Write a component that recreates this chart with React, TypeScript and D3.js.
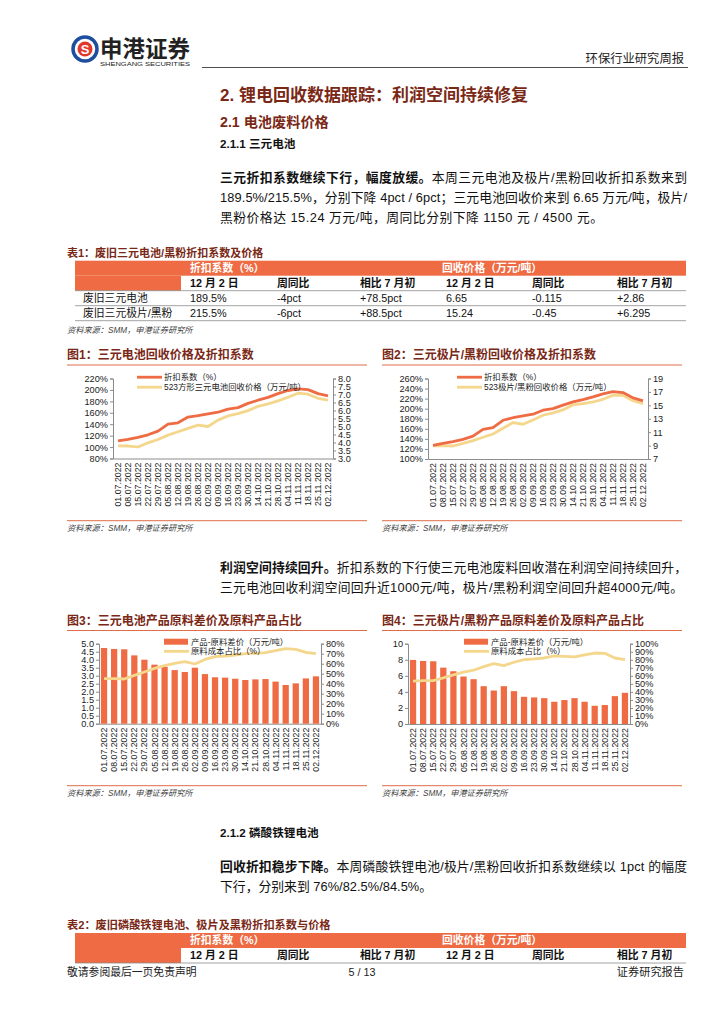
import React, { useEffect, useRef } from 'react';
import * as d3 from 'd3';

// weekly sample dates (SMM)
const dates = [
  '01.07.2022', '08.07.2022', '15.07.2022', '22.07.2022', '29.07.2022', '05.08.2022',
  '12.08.2022', '19.08.2022', '26.08.2022', '02.09.2022', '09.09.2022', '16.09.2022',
  '23.09.2022', '30.09.2022', '14.10.2022', '21.10.2022', '28.10.2022', '04.11.2022',
  '11.11.2022', '18.11.2022', '25.11.2022', '02.12.2022',
];

// fig 1: 三元电池
const ncmDiscount = [111, 113.5, 117, 121.5, 128, 140, 142.5, 152.5, 155, 158, 161, 166.5, 169, 176.5, 182, 187, 193.5, 199, 202, 200.5, 193.5, 189.5];
const ncmPrice = [3.79, 3.78, 3.72, 3.98, 4.19, 4.46, 4.67, 4.88, 5.09, 5.0, 5.4, 5.66, 5.8, 5.99, 6.26, 6.41, 6.6, 6.83, 7.08, 7.02, 6.765, 6.65];
// fig 2: 极片/黑粉
const powderDiscount = [127, 131, 134.5, 139, 145.5, 159, 162.5, 177, 182, 185.5, 189, 197, 200, 207, 213.5, 218, 223.5, 229.5, 234, 232, 221.5, 215.5];
const powderPrice = [8.945, 9.0, 8.94, 9.34, 9.74, 10.24, 10.73, 11.58, 12.43, 12.18, 12.82, 13.52, 13.87, 14.32, 15.07, 15.27, 15.5, 15.9, 16.5, 16.5, 15.69, 15.24];
// fig 3
const ncmSpread = [4.73, 4.67, 4.65, 4.27, 4.0, 3.69, 3.56, 3.35, 3.23, 3.5, 3.1, 2.9, 2.88, 2.81, 2.73, 2.77, 2.79, 2.63, 2.42, 2.52, 2.83, 2.96];
const ncmCostShare = [45, 45, 44.7, 48.3, 51.7, 55.3, 58, 60.3, 62, 59.7, 64.3, 67, 67.7, 68.7, 70, 70.3, 71, 73, 75, 74.3, 71.3, 70];
// fig 4
const powderSpread = [7.98, 7.85, 7.81, 7.02, 6.57, 5.91, 5.58, 4.71, 4.17, 4.71, 4.09, 3.39, 3.31, 3.22, 2.77, 2.98, 3.22, 2.77, 2.27, 2.36, 3.47, 3.88];
const powderCostShare = [53.3, 54.1, 54.1, 57.4, 61.2, 64.5, 67, 71.5, 75.2, 72.7, 76.9, 80.2, 81, 82.2, 84.7, 84.3, 83.5, 86, 88.4, 88, 82.2, 80.2];

// axis ticks
const fig1LeftTicks = [80, 100, 120, 140, 160, 180, 200, 220];
const fig1RightTicks = [3.0, 3.5, 4.0, 4.5, 5.0, 5.5, 6.0, 6.5, 7.0, 7.5, 8.0];
const fig2LeftTicks = [100, 120, 140, 160, 180, 200, 220, 240, 260];
const fig2RightTicks = [7, 9, 11, 13, 15, 17, 19];
const fig3LeftTicks = [0, 0.5, 1.0, 1.5, 2.0, 2.5, 3.0, 3.5, 4.0, 4.5, 5.0];
const fig3RightTicks = [0, 10, 20, 30, 40, 50, 60, 70, 80];
const fig4LeftTicks = [0, 2, 4, 6, 8, 10];
const fig4RightTicks = [0, 10, 20, 30, 40, 50, 60, 70, 80, 90, 100];

// tables
const tableGroups = ['折扣系数（%）', '回收价格（万元/吨）'];
const tableCols = ['12 月 2 日', '周同比', '相比 7 月初', '12 月 2 日', '周同比', '相比 7 月初'];
const table1Rows = [
  ['废旧三元电池', '189.5%', '-4pct', '+78.5pct', '6.65', '-0.115', '+2.86'],
  ['废旧三元极片/黑粉', '215.5%', '-6pct', '+88.5pct', '15.24', '-0.45', '+6.295'],
];

const ORANGE = '#EE6B43';
const YELLOW = '#F4D68C';
const BROWN = '#7A2816';
const RULE = '#E06D4A';
const FONT = "'Liberation Sans', Arial, 'Noto Sans CJK SC', sans-serif";

type G = d3.Selection<SVGGElement, unknown, null, undefined>;

interface Frame {
  x0: number; x1: number; yTop: number; yBot: number;
  leftDomain: [number, number]; leftTicks: number[]; leftFmt: (v: number) => string;
  rightDomain: [number, number]; rightTicks: number[]; rightFmt: (v: number) => string;
}

function drawFrame(g: G, f: Frame) {
  const x = d3.scaleBand<string>().domain(dates).range([f.x0, f.x1]).padding(0);
  const yl = d3.scaleLinear().domain(f.leftDomain).range([f.yBot, f.yTop]);
  const yr = d3.scaleLinear().domain(f.rightDomain).range([f.yBot, f.yTop]);

  const la = g.append('g').attr('transform', `translate(${f.x0},0)`)
    .call(d3.axisLeft(yl).tickValues(f.leftTicks).tickFormat((d) => f.leftFmt(+d)).tickSize(3).tickPadding(2));
  const ra = g.append('g').attr('transform', `translate(${f.x1},0)`)
    .call(d3.axisRight(yr).tickValues(f.rightTicks).tickFormat((d) => f.rightFmt(+d)).tickSize(3).tickPadding(2));
  const xa = g.append('g').attr('transform', `translate(0,${f.yBot})`)
    .call(d3.axisBottom(x).tickSize(0).tickFormat(() => ''));
  [la, ra, xa].forEach((a) => {
    a.select('.domain').attr('stroke', '#8c8c8c');
    a.selectAll('.tick line').attr('stroke', '#8c8c8c');
    a.selectAll('text').attr('font-family', FONT).attr('font-size', 9.2).attr('fill', '#222');
  });

  g.append('g').selectAll('text').data(dates).join('text')
    .attr('transform', (d) => `translate(${(x(d) ?? 0) + x.bandwidth() / 2 + 3},${f.yBot + 4}) rotate(-90)`)
    .attr('text-anchor', 'end')
    .attr('font-family', FONT).attr('font-size', 8.8).attr('fill', '#222')
    .text((d) => d);
  return { x, yl, yr };
}

function drawLine(g: G, x: d3.ScaleBand<string>, y: d3.ScaleLinear<number, number>, vals: number[], color: string) {
  const line = d3.line<number>()
    .x((_, i) => (x(dates[i]) ?? 0) + x.bandwidth() / 2)
    .y((d) => y(d));
  g.append('path').datum(vals).attr('d', line).attr('fill', 'none')
    .attr('stroke', color).attr('stroke-width', 2.8).attr('stroke-linejoin', 'round');
}

function drawLegendLine(g: G, x: number, y: number, color: string, label: string) {
  g.append('line').attr('x1', x).attr('x2', x + 25).attr('y1', y).attr('y2', y)
    .attr('stroke', color).attr('stroke-width', 2.8);
  g.append('text').attr('x', x + 27).attr('y', y + 3).attr('font-family', FONT)
    .attr('font-size', 8.4).attr('fill', '#222').text(label);
}

function drawLegendBar(g: G, x: number, y: number, label: string) {
  g.append('rect').attr('x', x).attr('y', y - 3).attr('width', 24).attr('height', 6).attr('fill', ORANGE);
  g.append('text').attr('x', x + 27).attr('y', y + 3).attr('font-family', FONT)
    .attr('font-size', 8.4).attr('fill', '#222').text(label);
}

function drawLineChart(g: G, f: Frame, s1: number[], s2: number[], lx: number, label1: string, label2: string) {
  const { x, yl, yr } = drawFrame(g, f);
  drawLine(g, x, yr, s2, YELLOW);
  drawLine(g, x, yl, s1, ORANGE);
  drawLegendLine(g, lx, f.yTop - 1.3, ORANGE, label1);
  drawLegendLine(g, lx, f.yTop + 8.7, YELLOW, label2);
}

function drawBarChart(g: G, f: Frame, bars: number[], share: number[], lx: number) {
  const { x, yl, yr } = drawFrame(g, f);
  const inner = d3.scaleBand<string>().domain(dates).range([f.x0, f.x1]).paddingInner(0.38).paddingOuter(0.19);
  g.append('g').selectAll('rect').data(bars).join('rect')
    .attr('x', (_, i) => (inner(dates[i]) ?? 0))
    .attr('width', inner.bandwidth())
    .attr('y', (d) => yl(d))
    .attr('height', (d) => f.yBot - yl(d))
    .attr('fill', ORANGE);
  drawLine(g, x, yr, share, YELLOW);
  drawLegendBar(g, lx, f.yTop - 2, '产品-原料差价（万元/吨）');
  drawLegendLine(g, lx, f.yTop + 7.6, YELLOW, '原料成本占比（%）');
}

const pct = (v: number) => `${v}%`;
const one = (v: number) => v.toFixed(1);
const int = (v: number) => `${v}`;

function FigureHead({ x, y, w, title }: { x: number; y: number; w: number; title: string }) {
  return (
    <g>
      <text x={x} y={y} fontFamily={FONT} fontSize={12} fontWeight="bold" fill={BROWN}>{title}</text>
      <line x1={x} x2={x + w} y1={y + 6} y2={y + 6} stroke={RULE} strokeWidth={1} />
    </g>
  );
}

function FigureFoot({ x, y, w }: { x: number; y: number; w: number }) {
  return (
    <g>
      <line x1={x} x2={x + w} y1={y} y2={y} stroke={RULE} strokeWidth={1} />
      <text x={x} y={y + 10} fontFamily={FONT} fontSize={8.2} fontStyle="italic" fill="#444">资料来源：SMM，申港证券研究所</text>
    </g>
  );
}

const colX = [190, 277, 360, 446, 532, 617];

function Table({ y, rows }: { y: number; rows: string[][] }) {
  const L = 75, R = 686, h = 15;
  return (
    <g fontFamily={FONT} fontSize={10.8}>
      <rect x={L} y={y} width={R - L} height={h} fill={ORANGE} />
      <rect x={L} y={y + h} width={181 - L} height={h} fill={ORANGE} />
      <text x={colX[0]} y={y + 11} fill="#fff" fontWeight="bold">{tableGroups[0]}</text>
      <text x={colX[3] - 4} y={y + 11} fill="#fff" fontWeight="bold">{tableGroups[1]}</text>
      {tableCols.map((c, i) => (
        <text key={i} x={colX[i]} y={y + h + 11} fill="#111" fontWeight="bold">{c}</text>
      ))}
      <line x1={L} x2={R} y1={y + 2 * h} y2={y + 2 * h} stroke="#8a8a8a" strokeWidth={0.8} />
      {rows.map((r, ri) => (
        <g key={ri}>
          {r.map((c, ci) => (
            <text key={ci} x={ci === 0 ? 83 : colX[ci - 1]} y={y + (ri + 2) * h + 11} fill="#111">{c}</text>
          ))}
          <line x1={L} x2={R} y1={y + (ri + 3) * h} y2={y + (ri + 3) * h} stroke="#8a8a8a" strokeWidth={0.8} />
        </g>
      ))}
    </g>
  );
}

export default function App() {
  const ref = useRef<SVGGElement>(null);

  useEffect(() => {
    if (!ref.current) return;
    const root = d3.select(ref.current);
    root.selectAll('*').remove();

    drawLineChart(root.append('g'), {
      x0: 113, x1: 333, yTop: 378.5, yBot: 458.5,
      leftDomain: [80, 220], leftTicks: fig1LeftTicks, leftFmt: pct,
      rightDomain: [3, 8], rightTicks: fig1RightTicks, rightFmt: one,
    }, ncmDiscount, ncmPrice, 137, '折扣系数（%）', '523方形三元电池回收价格（万元/吨）');

    drawLineChart(root.append('g'), {
      x0: 428, x1: 648, yTop: 378.5, yBot: 459,
      leftDomain: [100, 260], leftTicks: fig2LeftTicks, leftFmt: pct,
      rightDomain: [7, 19], rightTicks: fig2RightTicks, rightFmt: int,
    }, powderDiscount, powderPrice, 457, '折扣系数（%）', '523极片/黑粉回收价格（万元/吨）');

    drawBarChart(root.append('g'), {
      x0: 99, x1: 321, yTop: 643.7, yBot: 723.7,
      leftDomain: [0, 5], leftTicks: fig3LeftTicks, leftFmt: one,
      rightDomain: [0, 80], rightTicks: fig3RightTicks, rightFmt: pct,
    }, ncmSpread, ncmCostShare, 164);

    drawBarChart(root.append('g'), {
      x0: 408, x1: 630, yTop: 643.7, yBot: 724,
      leftDomain: [0, 10], leftTicks: fig4LeftTicks, leftFmt: int,
      rightDomain: [0, 100], rightTicks: fig4RightTicks, rightFmt: pct,
    }, powderSpread, powderCostShare, 464);
  }, []);

  const body = { fontFamily: FONT, fontSize: 12.8, fill: '#111' } as const;

  return (
    <svg width={724} height={1024} style={{ position: 'absolute', left: 0, top: 0, background: '#fff' }}>
      {/* header */}
      <circle cx={85} cy={49} r={12} fill="none" stroke="#1D4F9E" strokeWidth={3.5} />
      <circle cx={85} cy={49} r={7.5} fill="#E2382C" />
      <text x={85} y={53.5} textAnchor="middle" fontFamily={FONT} fontWeight="bold" fontSize={13} fill="#fff">S</text>
      <text x={100} y={57} fontFamily={FONT} fontWeight="bold" fontSize={22.5} fill="#222">申港证券</text>
      <text x={100} y={66} fontFamily={FONT} fontSize={5.6} fill="#222" textLength={90} lengthAdjust="spacingAndGlyphs">SHENGANG SECURITIES</text>
      <text x={684} y={63} textAnchor="end" fontFamily={FONT} fontSize={12.3} fill="#222">环保行业研究周报</text>
      <line x1={202} x2={688} y1={67.5} y2={67.5} stroke="#222" strokeWidth={0.8} />

      {/* headings */}
      <text x={220} y={101} fontFamily={FONT} fontWeight="bold" fontSize={17} fill={BROWN}>2. 锂电回收数据跟踪：利润空间持续修复</text>
      <text x={220} y={127} fontFamily={FONT} fontWeight="bold" fontSize={14.2} fill={BROWN}>2.1 电池废料价格</text>
      <text x={220} y={148} fontFamily={FONT} fontWeight="bold" fontSize={11.6} fill="#111">2.1.1 三元电池</text>

      <text x={220} y={181.5} {...body} textLength={467} lengthAdjust="spacing">
        <tspan fontWeight="bold">三元折扣系数继续下行，幅度放缓。</tspan>本周三元电池及极片/黑粉回收折扣系数来到
      </text>
      <text x={220} y={201.5} {...body} textLength={467} lengthAdjust="spacing">189.5%/215.5%，分别下降 4pct / 6pct；三元电池回收价来到 6.65 万元/吨，极片/</text>
      <text x={220} y={221.5} {...body} textLength={383} lengthAdjust="spacing">黑粉价格达 15.24 万元/吨，周同比分别下降 1150 元 / 4500 元。</text>

      {/* table 1 */}
      <text x={67} y={256.5} fontFamily={FONT} fontWeight="bold" fontSize={11} fill={BROWN}>表1：废旧三元电池/黑粉折扣系数及价格</text>
      <Table y={260.7} rows={table1Rows} />
      <text x={67} y={332.5} fontFamily={FONT} fontSize={8.2} fontStyle="italic" fill="#444">资料来源：SMM，申港证券研究所</text>

      {/* figures row 1 */}
      <FigureHead x={67} y={359} w={300} title="图1：三元电池回收价格及折扣系数" />
      <FigureHead x={382} y={359} w={300} title="图2：三元极片/黑粉回收价格及折扣系数" />
      <FigureFoot x={67} y={520.7} w={300} />
      <FigureFoot x={382} y={520.7} w={300} />

      {/* paragraph 2 */}
      <text x={220} y={571.5} {...body} textLength={467} lengthAdjust="spacing">
        <tspan fontWeight="bold">利润空间持续回升。</tspan>折扣系数的下行使三元电池废料回收潜在利润空间持续回升，
      </text>
      <text x={220} y={591.5} {...body} textLength={463} lengthAdjust="spacing">三元电池回收利润空间回升近1000元/吨，极片/黑粉利润空间回升超4000元/吨。</text>

      {/* figures row 2 */}
      <FigureHead x={67} y={624.5} w={300} title="图3：三元电池产品原料差价及原料产品占比" />
      <FigureHead x={382} y={624.5} w={300} title="图4：三元极片/黑粉产品原料差价及原料产品占比" />
      <FigureFoot x={67} y={785.7} w={300} />
      <FigureFoot x={382} y={785.7} w={300} />

      {/* 2.1.2 */}
      <text x={220} y={837} fontFamily={FONT} fontWeight="bold" fontSize={11.6} fill="#111">2.1.2 磷酸铁锂电池</text>
      <text x={220} y={870.5} {...body} textLength={467} lengthAdjust="spacing">
        <tspan fontWeight="bold">回收折扣稳步下降。</tspan>本周磷酸铁锂电池/极片/黑粉回收折扣系数继续以 1pct 的幅度
      </text>
      <text x={220} y={890.5} {...body} textLength={212} lengthAdjust="spacing">下行，分别来到 76%/82.5%/84.5%。</text>

      {/* table 2 */}
      <text x={67} y={929} fontFamily={FONT} fontWeight="bold" fontSize={11.2} fill={BROWN}>表2：废旧磷酸铁锂电池、极片及黑粉折扣系数与价格</text>
      <Table y={933} rows={[]} />

      {/* footer */}
      <text x={67} y={976} fontFamily={FONT} fontSize={10.8} fill="#222">敬请参阅最后一页免责声明</text>
      <text x={362} y={976} textAnchor="middle" fontFamily={FONT} fontSize={10.8} fill="#222">5 / 13</text>
      <text x={684} y={976} textAnchor="end" fontFamily={FONT} fontSize={11.2} fill="#222">证券研究报告</text>

      <g ref={ref} />
    </svg>
  );
}
